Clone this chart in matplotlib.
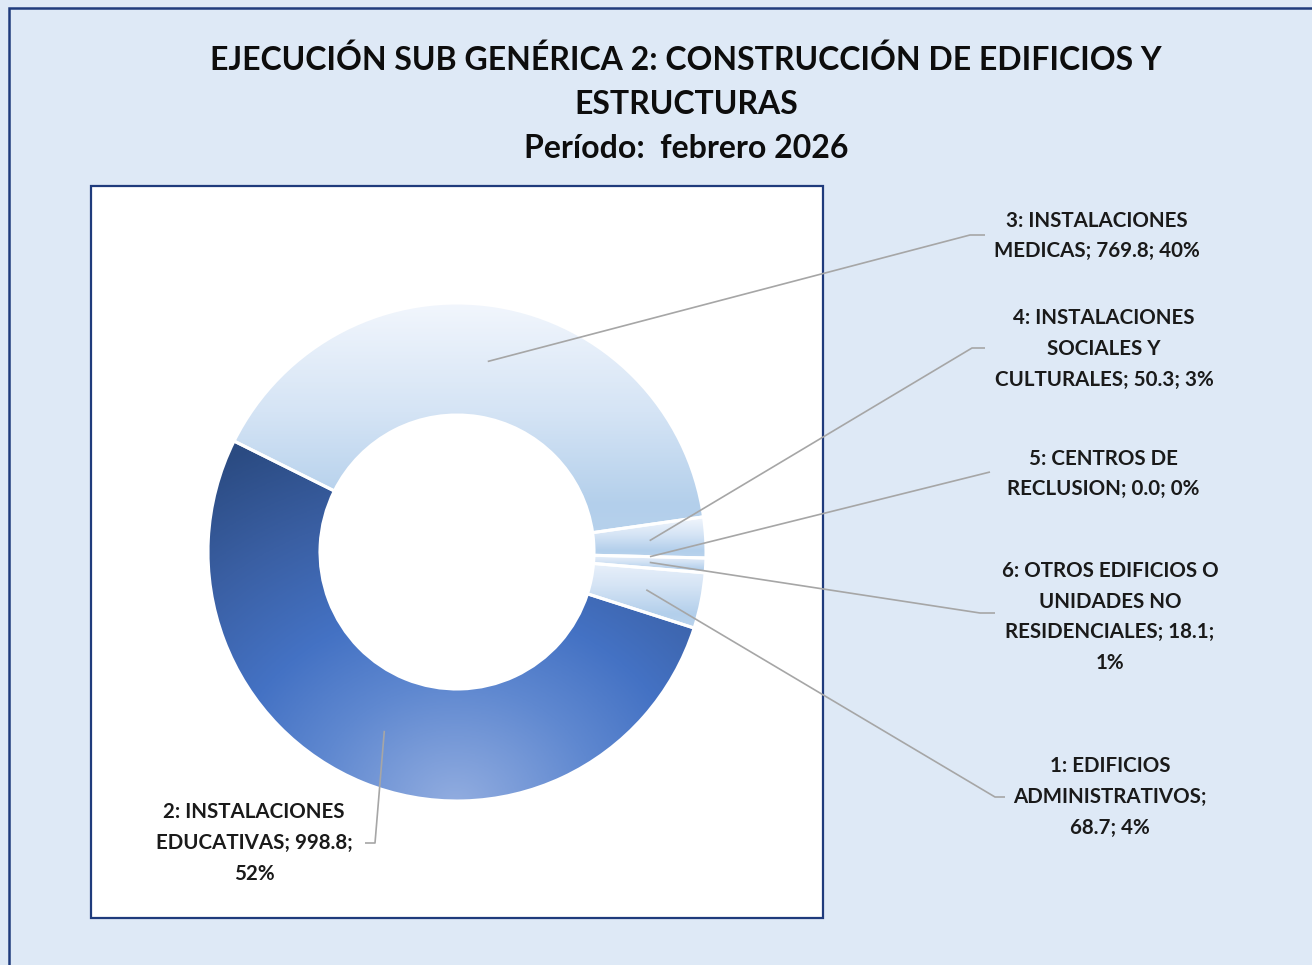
import textwrap
import numpy as np
import matplotlib
matplotlib.use("Agg")
import matplotlib.pyplot as plt
from matplotlib.patches import Rectangle, PathPatch
from matplotlib.colors import LinearSegmentedColormap

# datos
codigos = [1, 2, 3, 4, 5, 6]
nombres = ["EDIFICIOS ADMINISTRATIVOS",
           "INSTALACIONES EDUCATIVAS",
           "INSTALACIONES MEDICAS",
           "INSTALACIONES SOCIALES Y CULTURALES",
           "CENTROS DE RECLUSION",
           "OTROS EDIFICIOS O UNIDADES NO RESIDENCIALES"]
montos = [68.7, 998.8, 769.8, 50.3, 0.0, 18.1]

titulo = ("EJECUCIÓN SUB GENÉRICA 2: CONSTRUCCIÓN DE EDIFICIOS Y\n"
          "ESTRUCTURAS\nPeríodo:  febrero 2026")

W, H = 1312, 965
plt.rcParams['font.family'] = ['Lato', 'DejaVu Sans']

fig = plt.figure(figsize=(W / 100, H / 100), dpi=100)
fig.patch.set_facecolor("#dee9f6")
ax = fig.add_axes([0, 0, 1, 1])

def py(y):
    # coordenadas tipo imagen -> datos
    return H - y

cx, cy = 457, py(552)
R, ancho = 249, 112

wedges, _ = ax.pie(montos, startangle=-4.8, counterclock=False, radius=R,
                   center=(cx, cy), wedgeprops=dict(width=ancho, linewidth=0),
                   colors=["#c9dcf1", "#4472c4", "#c9dcf1", "#c9dcf1", "#c9dcf1", "#c9dcf1"])
ax.set_aspect("equal")
ax.axis("off")

# fondo del area de grafico y bordes
ax.add_patch(Rectangle((91, py(918)), 732, 732, facecolor="white",
                       edgecolor="#1f3b7c", linewidth=1.6, zorder=0))
ax.add_patch(Rectangle((9, py(1000)), 1400, 992, facecolor="none",
                       edgecolor="#1f3b7c", linewidth=1.8, zorder=0, clip_on=False))

# degradados
claro = LinearSegmentedColormap.from_list(
    "claro", [(0, "#f3f7fd"), (0.45, "#d5e4f5"), (0.82, "#b3cfeb"), (1, "#b9d3ed")])
oscuro = LinearSegmentedColormap.from_list(
    "oscuro", [(0, "#92ade0"), (0.3, "#5f88d0"), (0.5, "#4472c4"), (0.75, "#3a5fa3"), (1, "#2b4b82")])

for i, w in enumerate(wedges):
    if montos[i] == 0:
        continue
    v = w.get_path().vertices
    x0, x1 = v[:, 0].min(), v[:, 0].max()
    y0, y1 = v[:, 1].min(), v[:, 1].max()
    if i == 1:
        xs = np.linspace(x0, x1, 300)
        ys = np.linspace(y0, y1, 300)
        X, Y = np.meshgrid(xs, ys)
        d = np.hypot((X - 455) * 0.85, Y - py(805)) / 400
        img = oscuro(np.clip(d, 0, 1))
    else:
        t = np.linspace(0, 1, 200)[:, None] * np.ones((1, 10))
        img = claro(t)
        img = img[::-1]
    im = ax.imshow(img, extent=(x0, x1, y0, y1), origin="lower",
                   interpolation="bilinear", zorder=2, aspect="auto")
    im.set_clip_path(w)
    ax.add_patch(PathPatch(w.get_path(), facecolor="none", edgecolor="white",
                           linewidth=2.2, zorder=3))
ax.set_xlim(0, W)
ax.set_ylim(0, H)

# etiquetas
total = sum(montos)
anchos_txt = [16, 18, 19, 20, 18, 20]
codos = [(995, 797), (375, 843), (970, 235), (972, 348), (990, 472), (980, 613)]
remates = [1005, 365, 985, 985, 990, 995]
pos_txt = [(1110, 797), (254, 843), (1097, 236), (1104, 349), (1103, 474), (1110, 617)]

ang = -4.8
for i, w in enumerate(wedges):
    frac = montos[i] / total
    medio = ang - frac * 360 / 2
    ang = ang - frac * 360
    rm = R - ancho / 2
    sx = cx + rm * np.cos(np.radians(medio))
    sy = cy + rm * np.sin(np.radians(medio))
    ex, ey = codos[i]
    ax.plot([sx, ex, remates[i]], [sy, py(ey), py(ey)], color="#a6a6a6",
            linewidth=1.2, zorder=4, solid_capstyle="butt")
    txt = f"{codigos[i]}: {nombres[i]}; {montos[i]:.1f}; {frac * 100:.0f}%"
    txt = "\n".join(textwrap.wrap(txt, anchos_txt[i]))
    ax.text(pos_txt[i][0], py(pos_txt[i][1]), txt, ha="center", va="center",
            fontsize=14.8, fontweight="bold", color="#1a1a1a", linespacing=1.68,
            zorder=5)

fig.text(686 / W, 1 - 104 / H, titulo, ha="center", va="center", fontsize=23,
         fontweight="bold", color="#0d0d0d", linespacing=1.63)

fig.savefig("out.png", dpi=100, facecolor=fig.get_facecolor())
